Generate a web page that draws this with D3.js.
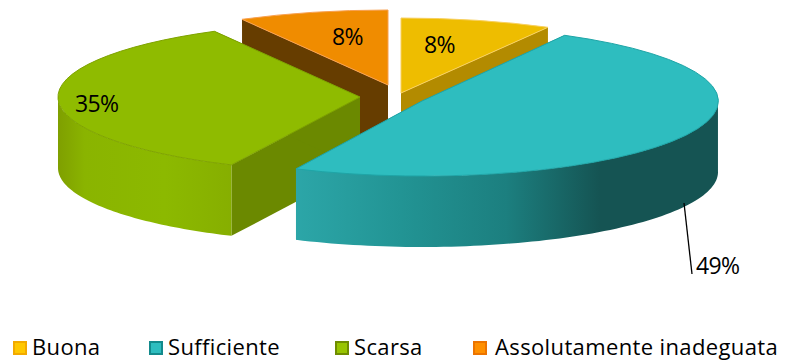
<!DOCTYPE html>
<html><head><meta charset="utf-8">
<script src="https://cdn.jsdelivr.net/npm/d3@7"></script>
<style>html,body{margin:0;background:#fff}svg{display:block}text{font-family:"Open Sans",sans-serif;fill:#000}</style>
</head><body><svg width="791" height="360"></svg>
<script>
const categories = ["Buona","Sufficiente","Scarsa","Assolutamente inadeguata"];
const values = [8,49,35,8];
const labels = ["8%","49%","35%","8%"];

const topColors  = ["#eebd00","#2ebdbf","#8fbb00","#f08c00"];
const sideColors = ["#b38b00","#1f8f8f","#6b8900","#663d00"];
const edgeColors = ["#f8d060","#1fa5a7","#7fa300","#f8a050"];
const legendFill = ["#ffc800","#2ebdbf","#98c400","#ff9000"];
const legendEdge = ["#f2aa00","#138a8c","#6f8c00","#ec7400"];

const centers = [{x:401,y:93},{x:422,y:101},{x:360,y:97},{x:388,y:85}];
const radiiX = [305,296,302,303];
const ry = 75, depth = 71;
const legendX = [13,149,335,473];
const legendTextX = [32,168,354,495];
const labelPos = [{x:424,y:53},{x:696,y:274},{x:75,y:112},{x:332,y:45}];

const svg = d3.select("svg");
const arcs = d3.pie().sort(null)(values);
const py = d3.scaleLinear().domain([-1,1]).range([-ry,ry]);
const defs = svg.append("defs");

const gTeal = defs.append("linearGradient").attr("id","wall1").attr("gradientUnits","userSpaceOnUse")
  .attr("x1",295).attr("x2",718).attr("y1",0).attr("y2",0);
[[0,"#2ca6a8"],[.25,"#229494"],[.5,"#1c7f7f"],[.72,"#155453"],[1,"#155453"]].forEach(s=>gTeal.append("stop").attr("offset",s[0]).attr("stop-color",s[1]));
const gGreen = defs.append("linearGradient").attr("id","wall2").attr("gradientUnits","userSpaceOnUse")
  .attr("x1",58).attr("x2",236).attr("y1",0).attr("y2",0);
[[0,"#7f9f00"],[.15,"#8ab400"],[.6,"#8cb900"],[1,"#86ae00"]].forEach(s=>gGreen.append("stop").attr("offset",s[0]).attr("stop-color",s[1]));

const line = d3.line();
const topArc = d3.arc().innerRadius(0).outerRadius(1);

function drawSlice(i){
  const d = arcs[i], c = centers[i], g = svg.append("g");
  const px = d3.scaleLinear().domain([-1,1]).range([-radiiX[i],radiiX[i]]);
  const pt = (a,dz=0)=>[c.x+px(Math.sin(a)), c.y-py(Math.cos(a))+dz];
  const rim = d3.range(0,121).map(k=>d.startAngle+(d.endAngle-d.startAngle)*k/120);
  [d.startAngle,d.endAngle].forEach(a=>{
    const p = pt(a);
    g.append("path").attr("fill",sideColors[i])
     .attr("d",line([[c.x,c.y],p,[p[0],p[1]+depth],[c.x,c.y+depth]])+"Z");
  });
  const front = rim.filter(a=>Math.cos(a)<0.02);
  if(front.length){
    const wall = front.map(a=>pt(a)).concat(front.slice().reverse().map(a=>pt(a,depth)));
    g.append("path").attr("d",line(wall)+"Z")
     .attr("fill", i===1?"url(#wall1)":i===2?"url(#wall2)":sideColors[i]);
  }
  g.append("path").attr("d",topArc(d))
   .attr("transform",`translate(${c.x},${c.y}) scale(${radiiX[i]},${ry})`)
   .attr("fill",topColors[i]).attr("stroke",edgeColors[i])
   .attr("stroke-width",1).attr("vector-effect","non-scaling-stroke");
}
[3,0,2,1].forEach(drawSlice);

svg.append("line").attr("x1",684).attr("y1",203).attr("x2",692).attr("y2",274)
   .attr("stroke","#000").attr("stroke-width",1.3);

svg.selectAll(".lab").data(labels).join("text").attr("class","lab")
  .attr("x",(d,i)=>labelPos[i].x).attr("y",(d,i)=>labelPos[i].y)
  .attr("font-size",23).attr("letter-spacing",-.6).text(d=>d);

const lg = svg.selectAll(".leg").data(categories).join("g").attr("class","leg");
lg.append("rect").attr("x",(d,i)=>legendX[i]+1).attr("y",342).attr("width",12).attr("height",12)
  .attr("fill",(d,i)=>legendFill[i]).attr("stroke",(d,i)=>legendEdge[i]).attr("stroke-width",2);
lg.append("text").attr("x",(d,i)=>legendTextX[i]).attr("y",355).attr("font-size",22)
  .attr("letter-spacing",(d,i)=>i===3?.37:.35).text(d=>d);
</script></body></html>
